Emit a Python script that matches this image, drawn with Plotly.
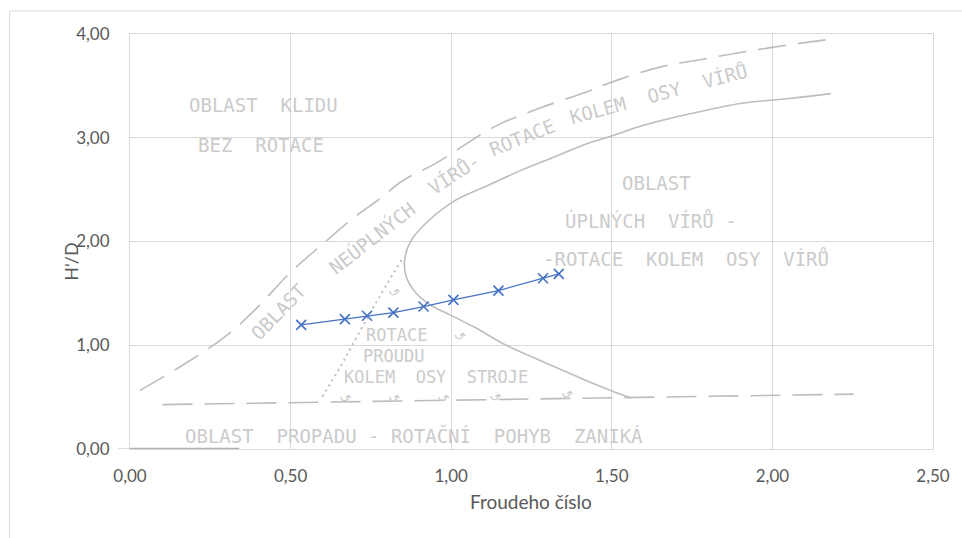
import plotly.graph_objects as go

# ---- measured series ----
froude = [0.533, 0.669, 0.738, 0.820, 0.914, 1.007, 1.147, 1.286, 1.335]
hd = [1.197, 1.252, 1.284, 1.315, 1.373, 1.438, 1.527, 1.646, 1.688]

# ---- background diagram curves ----
upper_dash_x = [0.031, 0.160, 0.297, 0.389, 0.502, 0.600, 0.697, 0.777, 0.851, 0.953,
                1.137, 1.278, 1.414, 1.515, 1.650, 1.792, 1.937, 2.090, 2.191]
upper_dash_y = [0.565, 0.800, 1.085, 1.341, 1.710, 1.975, 2.230, 2.410, 2.590, 2.755,
                3.110, 3.288, 3.433, 3.553, 3.681, 3.762, 3.841, 3.912, 3.954]

c_curve_x = [2.182, 2.059, 1.905, 1.752, 1.598, 1.506, 1.424, 1.321, 1.219, 1.116, 1.014,
             0.932, 0.876, 0.855, 0.860, 0.891, 0.943, 0.983, 1.076, 1.168, 1.300, 1.414,
             1.506, 1.558]
c_curve_y = [3.425, 3.380, 3.332, 3.236, 3.120, 3.024, 2.944, 2.815, 2.688, 2.543, 2.399,
             2.207, 2.014, 1.822, 1.662, 1.502, 1.373, 1.313, 1.168, 1.005, 0.822, 0.668,
             0.553, 0.495]

dotted_x = [0.845, 0.759, 0.691, 0.655, 0.593]
dotted_y = [1.822, 1.373, 0.995, 0.793, 0.476]

low_dash_x = [0.101, 1.516, 2.253]
low_dash_y = [0.428, 0.495, 0.529]

base_x = [0.0, 0.34]
base_y = [0.004, 0.004]

# ---- diagram texts ----
region_labels = ["OBLAST  KLIDU", "BEZ  ROTACE", "OBLAST", "ÚPLNÝCH  VÍRŮ -",
                 "-ROTACE  KOLEM  OSY  VÍRŮ", "ROTACE", "PROUDU", "KOLEM  OSY  STROJE",
                 "OBLAST  PROPADU - ROTAČNÍ  POHYB  ZANIKÁ"]
region_x = [0.415, 0.407, 1.638, 1.623, 1.730, 0.830, 0.820, 0.953, 0.885]
region_y = [3.312, 2.928, 2.563, 2.207, 1.841, 1.095, 0.900, 0.690, 0.130]
region_size = [19, 19, 19, 19, 19, 17, 17, 17, 19]

curve_labels = ["OBLAST", "NEÚPLNÝCH", "VÍRŮ-", "ROTACE", "KOLEM  OSY  VÍRŮ"]
curve_x = [0.461, 0.753, 1.008, 1.223, 1.644]
curve_y = [1.322, 2.043, 2.659, 3.005, 3.428]
curve_angle = [-46, -38, -33, -22, -15]

symbol_x = [0.824, 1.029, 0.670, 0.824, 0.977, 1.137, 1.361]
symbol_y = [1.524, 1.101, 0.500, 0.500, 0.500, 0.505, 0.545]

x_ticks = [0, 0.5, 1.0, 1.5, 2.0, 2.5]
y_ticks = [0, 1, 2, 3, 4]

GRAY_LINE = "#bdbdbd"
GRAY_TEXT = "#cbcbcb"
AXIS_TEXT = "#595959"
GRID = "#d9d9d9"
BLUE = "#4472c4"

fig = go.Figure()

fig.add_trace(go.Scatter(x=upper_dash_x, y=upper_dash_y, mode="lines",
                         line=dict(color=GRAY_LINE, width=1.6, dash="28px,12px", shape="spline"),
                         hoverinfo="skip"))
fig.add_trace(go.Scatter(x=c_curve_x, y=c_curve_y, mode="lines",
                         line=dict(color=GRAY_LINE, width=1.6, shape="spline"),
                         hoverinfo="skip"))
fig.add_trace(go.Scatter(x=dotted_x, y=dotted_y, mode="lines",
                         line=dict(color=GRAY_LINE, width=2, dash="2px,4px", shape="spline"),
                         hoverinfo="skip"))
fig.add_trace(go.Scatter(x=low_dash_x, y=low_dash_y, mode="lines",
                         line=dict(color=GRAY_LINE, width=1.6, dash="30px,12px"),
                         hoverinfo="skip"))
fig.add_trace(go.Scatter(x=base_x, y=base_y, mode="lines",
                         line=dict(color="#b0b0b0", width=1.5), hoverinfo="skip"))

fig.add_trace(go.Scatter(x=froude, y=hd, mode="lines+markers",
                         line=dict(color=BLUE, width=1.3),
                         marker=dict(symbol="x-thin", size=10,
                                     line=dict(width=1.6, color=BLUE), color=BLUE)))

annotations = []
for t, x, y, s in zip(region_labels, region_x, region_y, region_size):
    annotations.append(dict(x=x, y=y, xref="x", yref="y", text=t, showarrow=False,
                            xanchor="center", yanchor="middle",
                            font=dict(family="DejaVu Sans Mono", size=s, color=GRAY_TEXT)))
for t, x, y, a in zip(curve_labels, curve_x, curve_y, curve_angle):
    annotations.append(dict(x=x, y=y, xref="x", yref="y", text=t, showarrow=False,
                            textangle=a, xanchor="center", yanchor="middle",
                            font=dict(family="DejaVu Sans Mono", size=19, color=GRAY_TEXT)))
for x, y in zip(symbol_x, symbol_y):
    annotations.append(dict(x=x, y=y, xref="x", yref="y", text="↶", showarrow=False,
                            textangle=180, xanchor="center", yanchor="middle",
                            font=dict(family="DejaVu Sans", size=14, color=GRAY_TEXT)))

annotations.append(dict(x=-0.0738, y=0.4506, xref="paper", yref="paper", text="H'/D",
                        showarrow=False, textangle=-90, xanchor="center", yanchor="middle",
                        font=dict(family="Lato", size=18, color=AXIS_TEXT)))
annotations.append(dict(x=0.4994, y=-0.1277, xref="paper", yref="paper", text="Froudeho číslo",
                        showarrow=False, xanchor="center", yanchor="middle",
                        font=dict(family="Lato", size=19, color=AXIS_TEXT)))

shapes = [
    dict(type="rect", xref="paper", yref="paper", x0=-0.150, x1=1.1, y0=-0.3, y1=1.0554,
         line=dict(color=GRID, width=1), fillcolor="rgba(0,0,0,0)", layer="below"),
    dict(type="line", xref="paper", yref="y", x0=-0.0148, x1=0, y0=0, y1=0,
         line=dict(color="#bfbfbf", width=1)),
]

fig.update_layout(
    width=962, height=538,
    margin=dict(l=130, r=19, t=34, b=89),
    paper_bgcolor="white", plot_bgcolor="white",
    showlegend=False,
    separators=", ",
    annotations=annotations,
    shapes=shapes,
    xaxis=dict(range=[0, 2.5], tickvals=x_ticks, tickformat=".2f",
               showgrid=True, gridcolor=GRID, gridwidth=1, zeroline=False,
               showline=True, linecolor=GRID, mirror=True, ticks="",
               ticklabelstandoff=12,
               tickfont=dict(family="Lato", size=17, color=AXIS_TEXT)),
    yaxis=dict(range=[0, 4], tickvals=y_ticks, tickformat=".2f",
               showgrid=True, gridcolor=GRID, gridwidth=1, zeroline=False,
               showline=True, linecolor=GRID, mirror=True, ticks="",
               ticklabelstandoff=16,
               tickfont=dict(family="Lato", size=17, color=AXIS_TEXT)),
)

fig.write_html("out.html")
